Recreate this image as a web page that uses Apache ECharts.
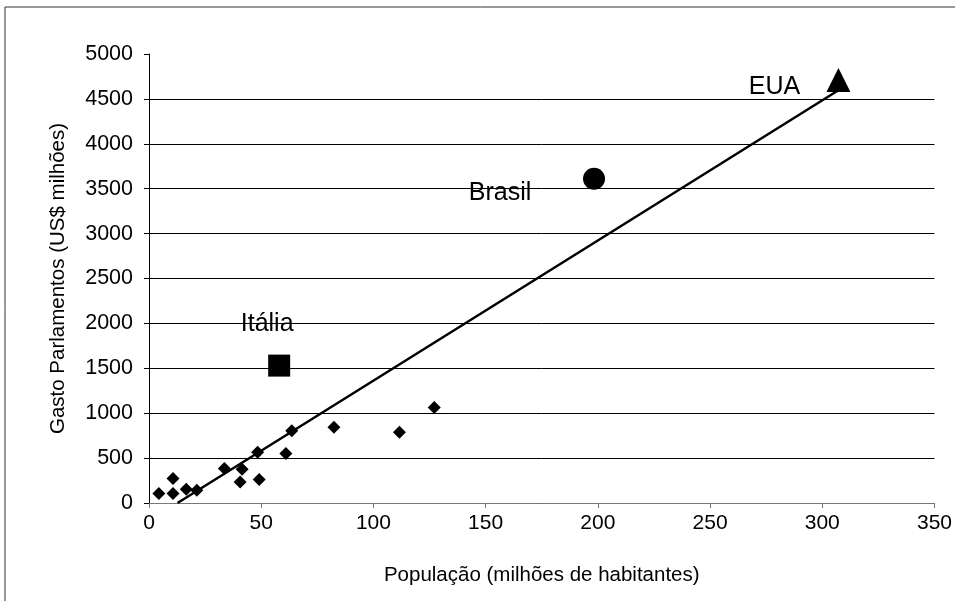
<!DOCTYPE html>
<html>
<head>
<meta charset="utf-8">
<script src="https://cdn.jsdelivr.net/npm/echarts@6/dist/echarts.min.js"></script>
<style>
html,body{margin:0;padding:0;background:#fff;}
#chart{width:955px;height:601px;}
</style>
</head>
<body>
<div id="chart"></div>
<script>
// Other countries (population in millions, parliament spending in US$ millions)
const otherPop   = [4.4, 10.7, 10.7, 16.6, 21.3, 33.6, 40.6, 41.5, 48.4, 49.1, 61, 63.6, 82.4, 111.6, 127.1];
const otherSpend = [105, 105, 273, 153, 142, 385, 235, 377, 564, 262, 552, 805, 843, 787, 1063];
// Highlighted countries
const highlightNames = ['Itália', 'Brasil', 'EUA'];
const highlightPop   = [58, 198.3, 307.2];
const highlightSpend = [1530, 3610, 4710];
// Axis ticks
const xTicks = [0, 50, 100, 150, 200, 250, 300, 350];
const yTicks = [0, 500, 1000, 1500, 2000, 2500, 3000, 3500, 4000, 4500, 5000];

const FONT = "'Liberation Sans', Arial, sans-serif";

// Linear trend line (least squares over all points)
const allX = otherPop.concat(highlightPop);
const allY = otherSpend.concat(highlightSpend);
const n = allX.length;
const mx = allX.reduce((a, b) => a + b, 0) / n;
const my = allY.reduce((a, b) => a + b, 0) / n;
let sxy = 0, sxx = 0;
for (let i = 0; i < n; i++) { sxy += (allX[i] - mx) * (allY[i] - my); sxx += (allX[i] - mx) * (allX[i] - mx); }
const slope = sxy / sxx;
const intercept = my - slope * mx;
const xMin = Math.max(Math.min(...allX), -intercept / slope);
const xMax = Math.max(...allX);
const trend = [[xMin, slope * xMin + intercept], [xMax, slope * xMax + intercept]];

const symbols = ['rect', 'circle', 'triangle'];
const sizes = [22, 22, 24];
const labelOffsets = [[-12, -41], [-94, 14], [-64, 7]];

const highlightSeries = highlightNames.map((name, i) => ({
  name: name,
  type: 'scatter',
  symbol: symbols[i],
  symbolSize: sizes[i],
  itemStyle: { color: '#000', opacity: 1 },
  data: [[highlightPop[i], highlightSpend[i]]],
  label: {
    show: true,
    position: 'inside',
    offset: labelOffsets[i],
    formatter: name,
    color: '#000',
    opacity: 1,
    fontSize: 25,
    fontFamily: FONT
  },
  z: 3
}));

const chart = echarts.init(document.getElementById('chart'), null, { renderer: 'canvas' });
chart.setOption({
  animation: false,
  backgroundColor: '#fff',
  textStyle: { fontFamily: FONT, color: '#000' },
  graphic: [{
    type: 'rect',
    shape: { x: 5, y: 7, width: 1000, height: 700 },
    style: { fill: 'none', stroke: '#333', lineWidth: 1 },
    silent: true,
    z: -1
  }],
  grid: { left: 149, right: 14, top: 54, bottom: 98 },
  xAxis: {
    type: 'value',
    min: xTicks[0],
    max: xTicks[xTicks.length - 1],
    interval: xTicks[1] - xTicks[0],
    name: 'População (milhões de habitantes)',
    nameLocation: 'middle',
    nameGap: 62,
    nameTextStyle: { fontSize: 20.5, color: '#000', fontFamily: FONT },
    axisLine: { show: true, lineStyle: { color: '#777', width: 1 } },
    axisTick: { show: true, length: 5, lineStyle: { color: '#777' } },
    axisLabel: { fontSize: 21, color: '#000', margin: 10, fontFamily: FONT, formatter: v => String(v) },
    splitLine: { show: false }
  },
  yAxis: {
    type: 'value',
    min: yTicks[0],
    max: yTicks[yTicks.length - 1],
    interval: yTicks[1] - yTicks[0],
    name: 'Gasto Parlamentos (US$ milhões)',
    nameLocation: 'middle',
    nameGap: 80,
    nameTextStyle: { fontSize: 20.5, color: '#000', fontFamily: FONT },
    axisLine: { show: true, lineStyle: { color: '#000', width: 1 } },
    axisTick: { show: true, length: 5, lineStyle: { color: '#000' } },
    axisLabel: { fontSize: 21.5, color: '#000', margin: 16, fontFamily: FONT, formatter: v => String(v) },
    splitLine: { show: true, showMaxLine: false, lineStyle: { color: '#000', width: 1 } }
  },
  series: [
    {
      name: 'Outros',
      type: 'scatter',
      symbol: 'diamond',
      symbolSize: 13,
      itemStyle: { color: '#000', opacity: 1 },
      data: otherPop.map((x, i) => [x, otherSpend[i]]),
      z: 3
    },
    ...highlightSeries,
    {
      name: 'Tendência',
      type: 'line',
      data: trend,
      showSymbol: false,
      symbol: 'none',
      lineStyle: { color: '#000', width: 2.5 },
      z: 2
    }
  ]
});
</script>
</body>
</html>
